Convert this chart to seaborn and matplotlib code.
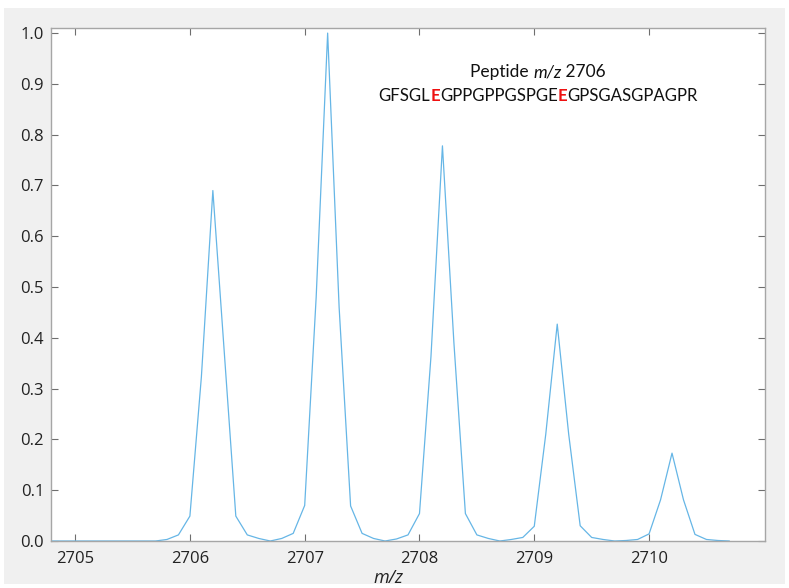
import numpy as np
import pandas as pd
import matplotlib
matplotlib.use("Agg")
import matplotlib.pyplot as plt
from matplotlib.patches import Rectangle
import seaborn as sns

# Isotope envelope of the peptide, sampled every 0.1 m/z
mz = [2704.8, 2704.9, 2705.0, 2705.1, 2705.2, 2705.3, 2705.4, 2705.5, 2705.6,
      2705.7, 2705.8, 2705.9,
      2706.0, 2706.1, 2706.2, 2706.3, 2706.4, 2706.5, 2706.6, 2706.7, 2706.8, 2706.9,
      2707.0, 2707.1, 2707.2, 2707.3, 2707.4, 2707.5, 2707.6, 2707.7, 2707.8, 2707.9,
      2708.0, 2708.1, 2708.2, 2708.3, 2708.4, 2708.5, 2708.6, 2708.7, 2708.8, 2708.9,
      2709.0, 2709.1, 2709.2, 2709.3, 2709.4, 2709.5, 2709.6, 2709.7, 2709.8, 2709.9,
      2710.0, 2710.1, 2710.2, 2710.3, 2710.4, 2710.5, 2710.6, 2710.7]
intensity = [0.0, 0.0, 0.0, 0.0, 0.0, 0.0, 0.0, 0.0, 0.0,
             0.0, 0.003, 0.012,
             0.049, 0.323, 0.690, 0.370, 0.049, 0.012, 0.005, 0.0, 0.005, 0.015,
             0.070, 0.480, 1.000, 0.460, 0.069, 0.015, 0.005, 0.0, 0.004, 0.012,
             0.054, 0.363, 0.778, 0.390, 0.054, 0.012, 0.005, 0.0, 0.003, 0.007,
             0.029, 0.210, 0.427, 0.210, 0.030, 0.007, 0.003, 0.0, 0.001, 0.003,
             0.014, 0.081, 0.173, 0.081, 0.013, 0.003, 0.001, 0.0]

x_ticks = [2705, 2706, 2707, 2708, 2709, 2710]
y_ticks = [0.0, 0.1, 0.2, 0.3, 0.4, 0.5, 0.6, 0.7, 0.8, 0.9, 1.0]

title_line = "Peptide"
title_mz = "m/z"
title_value = "2706"
sequence_parts = ["GFSGL", "E", "GPPGPPGSPGE", "E", "GPSGASGPAGPR"]
sequence_red = [False, True, False, True, False]

df = pd.DataFrame({"mz": mz, "intensity": intensity})

sns.set_theme(style="white")
plt.rcParams["font.family"] = ["Open Sans", "DejaVu Sans"]

W, H, DPI = 789, 588, 100
fig = plt.figure(figsize=(W / DPI, H / DPI), dpi=DPI, facecolor="white")
fig.patches.append(Rectangle((4 / W, 4 / H), 781 / W, 576 / H, transform=fig.transFigure,
                             facecolor="#f0f0f0", edgecolor="none", zorder=-10))

ax = fig.add_axes([51 / W, 1 - 541 / H, 714 / W, 513.5 / H])
ax.set_facecolor("white")

sns.lineplot(data=df, x="mz", y="intensity", ax=ax, color="#66b6e6", linewidth=0.9)

ax.set_xlim(2704.79, 2711.01)
ax.set_ylim(0, 1.011)
ax.set_xticks(x_ticks)
ax.set_xticklabels([str(t) for t in x_ticks])
ax.set_yticks(y_ticks)
ax.set_yticklabels([f"{t:.1f}" for t in y_ticks])

for s in ax.spines.values():
    s.set_color("#a6a6a6")
    s.set_linewidth(1.0)
    s.set_visible(True)

ax.tick_params(axis="both", which="both", direction="in", length=5, width=0.8,
               color="#6e6e6e", labelsize=12, labelcolor="#222222",
               top=True, right=True, bottom=True, left=True)
ax.tick_params(axis="x", pad=7)
ax.tick_params(axis="y", pad=5)

ax.set_ylabel("")
ax.set_xlabel("m/z", fontsize=13, style="italic", color="#222222")
ax.xaxis.set_label_coords(0.472, -0.055)

# Annotation: two centered lines, the glutamates highlighted in red
fig.canvas.draw()
renderer = fig.canvas.get_renderer()
ann_font = dict(family=["Lato", "DejaVu Sans"], color="#111111")


def place_row(parts, styles, cx_px, cy_px, size):
    texts = []
    for p, st in zip(parts, styles):
        t = fig.text(0, 0, p, transform=None, va="baseline", ha="left", fontsize=size,
                     **{**ann_font, **st})
        texts.append(t)
    widths = [t.get_window_extent(renderer).width for t in texts]
    total = sum(widths)
    x = cx_px - total / 2
    for t, w in zip(texts, widths):
        t.set_position((x, cy_px))
        x += w


cx = 538
place_row([title_line + " ", title_mz, " " + title_value],
          [{}, {"style": "italic"}, {}], cx, H - 77, 12.5)
place_row(sequence_parts,
          [{"color": "#ee1111", "weight": "bold"} if r else {} for r in sequence_red],
          cx, H - 101, 12.1)

fig.savefig("out.png", dpi=DPI, facecolor=fig.get_facecolor())
